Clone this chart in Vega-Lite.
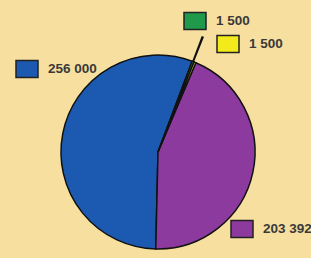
{
  "$schema": "https://vega.github.io/schema/vega-lite/v6.json",
  "width": 306,
  "height": 216,
  "padding": {"left": 5, "top": 44, "right": 0, "bottom": 0},
  "autosize": {"type": "none"},
  "background": "#f7df9f",
  "config": {
    "view": {"stroke": null},
    "legend": {
      "padding": 0,
      "symbolType": "M-1,-0.77H1V0.77H-1Z",
      "symbolSize": 484,
      "symbolStrokeColor": "#222222",
      "symbolStrokeWidth": 1.5,
      "symbolOpacity": 1,
      "labelFont": "Liberation Sans",
      "labelFontSize": 13.5,
      "labelFontWeight": "bold",
      "labelColor": "#3a3a3a",
      "labelOffset": 9
    }
  },
  "data": {
    "values": [
      {"rank": 1, "name": "green", "label": "1 500", "value": 1500},
      {"rank": 2, "name": "yellow", "label": "1 500", "value": 1500},
      {"rank": 3, "name": "purple", "label": "203 392", "value": 203392},
      {"rank": 4, "name": "blue", "label": "256 000", "value": 256000}
    ]
  },
  "transform": [
    {"stack": "value", "groupby": [], "sort": [{"field": "rank", "order": "ascending"}], "as": ["v0", "v1"]}
  ],
  "layer": [
    {
      "transform": [{"filter": "datum.name === 'green'"}],
      "mark": {"type": "arc", "radius": 124, "radius2": 97, "fill": "#111111", "strokeWidth": 0},
      "encoding": {
        "theta": {"field": "v0", "type": "quantitative", "scale": {"domain": [0, 462392], "range": [0.36, 6.6432], "nice": false, "zero": true}},
        "theta2": {"field": "v1"}
      }
    },
    {
      "transform": [{"filter": "datum.name === 'blue'"}],
      "mark": {"type": "arc", "radius": 97, "stroke": "#111111", "strokeWidth": 1.5},
      "encoding": {
        "theta": {"field": "v0", "type": "quantitative", "scale": {"domain": [0, 462392], "range": [0.36, 6.6432], "nice": false, "zero": true}},
        "theta2": {"field": "v1"},
        "color": {"field": "label", "type": "nominal", "scale": {"range": ["#1b5ab0"]}, "legend": {"title": null, "orient": "none", "legendX": 10, "legendY": 13}}
      }
    },
    {
      "transform": [{"filter": "datum.name === 'purple'"}],
      "mark": {"type": "arc", "radius": 97, "stroke": "#111111", "strokeWidth": 1.5},
      "encoding": {
        "theta": {"field": "v0", "type": "quantitative", "scale": {"domain": [0, 462392], "range": [0.36, 6.6432], "nice": false, "zero": true}},
        "theta2": {"field": "v1"},
        "color": {"field": "label", "type": "nominal", "scale": {"range": ["#8d3a9f"]}, "legend": {"title": null, "orient": "none", "legendX": 225, "legendY": 173}}
      }
    },
    {
      "transform": [{"filter": "datum.name === 'green'"}],
      "mark": {"type": "arc", "radius": 97, "stroke": "#111111", "strokeWidth": 1.5},
      "encoding": {
        "theta": {"field": "v0", "type": "quantitative", "scale": {"domain": [0, 462392], "range": [0.36, 6.6432], "nice": false, "zero": true}},
        "theta2": {"field": "v1"},
        "color": {"field": "label", "type": "nominal", "scale": {"range": ["#1f9a4a"]}, "legend": {"title": null, "orient": "none", "legendX": 178, "legendY": -35}}
      }
    },
    {
      "transform": [{"filter": "datum.name === 'yellow'"}],
      "mark": {"type": "arc", "radius": 97, "stroke": "#111111", "strokeWidth": 1.5},
      "encoding": {
        "theta": {"field": "v0", "type": "quantitative", "scale": {"domain": [0, 462392], "range": [0.36, 6.6432], "nice": false, "zero": true}},
        "theta2": {"field": "v1"},
        "color": {"field": "label", "type": "nominal", "scale": {"range": ["#f3ea1c"]}, "legend": {"title": null, "orient": "none", "legendX": 211, "legendY": -12}}
      }
    }
  ],
  "resolve": {"scale": {"color": "independent"}, "legend": {"color": "independent"}}
}
